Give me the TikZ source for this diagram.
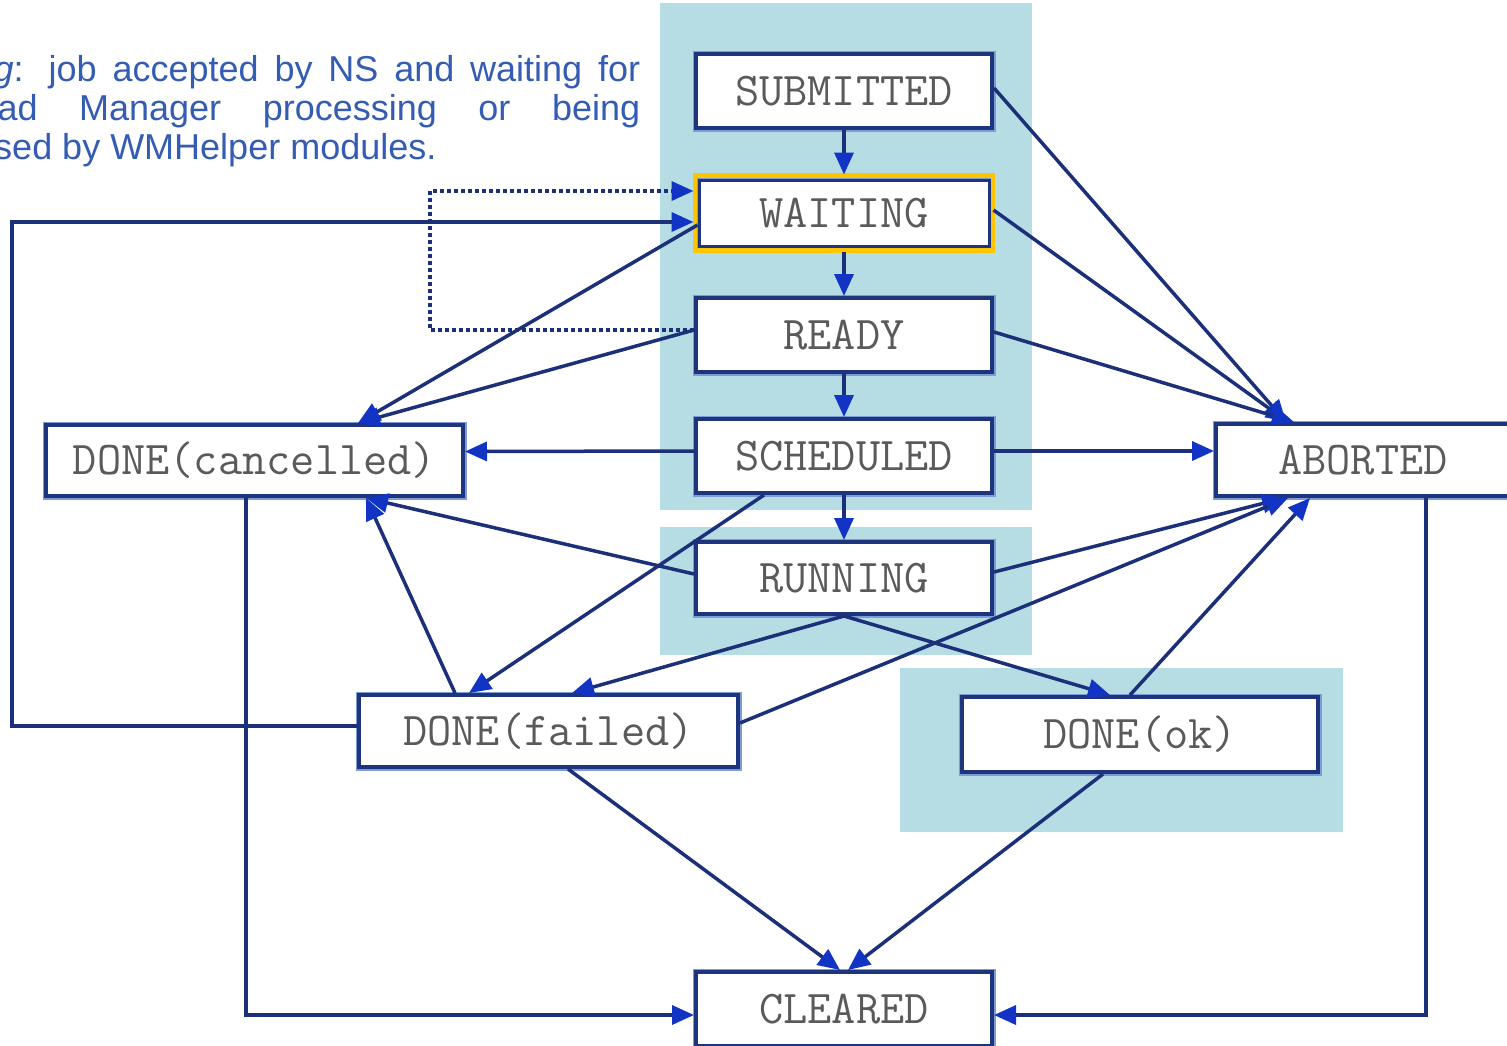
\documentclass[tikz,border=0pt]{standalone}
\usepackage{fontspec}
\setmainfont{Liberation Sans}
\usetikzlibrary{arrows.meta,calc}

\definecolor{panel}{RGB}{181,221,227}
\definecolor{edge}{RGB}{28,48,122}
\definecolor{tipblue}{RGB}{18,52,196}
\definecolor{frame}{RGB}{30,52,125}
\definecolor{halo}{RGB}{125,155,212}
\definecolor{label}{RGB}{90,90,90}
\definecolor{notecol}{RGB}{52,92,178}
\definecolor{highlight}{RGB}{255,198,0}

\begin{document}
\begin{tikzpicture}[x=1pt,y=-1pt,
  state/.style={draw=frame, line width=4pt, fill=white, inner sep=0pt,
    minimum width=296pt, minimum height=74pt, text=label,
    font=\ttfamily\fontsize{47}{48}\selectfont,
    preaction={draw=halo, line width=7pt}},
  wire/.style={draw=edge, line width=3.5pt},
  arrowed/.style={wire, -{Triangle[length=22pt,width=19pt,color=tipblue]}},
  dotwire/.style={arrowed, dash pattern=on 4pt off 3pt},
  panelbox/.style={fill=panel, draw=none},
  notetext/.style={text=notecol, inner sep=0pt, font=\fontsize{36}{39}\selectfont}
]
\useasboundingbox (0,0) rectangle (1507,1045);
\clip (0,0) rectangle (1507,1045);

% shaded groups of states
\fill[panelbox] (660,3) rectangle (1032,510);
\fill[panelbox] (660,527) rectangle (1032,655);
\fill[panelbox] (900,668) rectangle (1343,832);

% states
\node[state] (sub) at (844,91) {SUBMITTED};
\node[state, line width=3pt, minimum width=290pt, minimum height=66pt] (wait) at (844,213) {WAITING};
\draw[highlight, line width=4.5pt] ($(wait.north west)+(-2.5,-3)$) rectangle ($(wait.south east)+(2.5,3)$);
\node[state] (ready) at (844,335) {READY};
\node[state] (sched) at (844,456) {SCHEDULED};
\node[state, minimum height=72pt] (run) at (844,578) {RUNNING};
\node[state, minimum width=417pt, minimum height=71pt] (canc) at (254.5,460.5) {DONE(cancelled)};
\node[state, minimum width=294pt, minimum height=72pt] (abort) at (1363,460) {ABORTED};
\node[state, minimum width=379pt, minimum height=72pt] (failed) at (548.5,731) {DONE(failed)};
\node[state, minimum width=356pt, minimum height=75pt] (ok) at (1140,734.5) {DONE(ok)};
\node[state] (clear) at (844,1009) {CLEARED};

% helper coordinates for routed connectors
\coordinate (dotx) at (430,260);
\coordinate (railx) at (12,470);

% main chain
\draw[arrowed] (sub.south) -- ($(wait.north)+(0,-4)$);
\draw[arrowed] ($(wait.south)+(0,4)$) -- (ready.north);
\draw[arrowed] (ready.south) -- (sched.north);
\draw[arrowed] (sched.south) -- (run.north);

% towards ABORTED
\draw[arrowed] ($(sub.east)+(0,-3)$) -- ($(abort.north west)+(72,0)$);
\draw[arrowed] ($(wait.east)+(3,-3)$) -- ($(abort.north west)+(74,0)$);
\draw[arrowed] ($(ready.east)+(0,-3)$) -- ($(abort.north west)+(80,0)$);
\draw[arrowed] ($(sched.east)+(0,-5)$) -- ($(abort.west)+(0,-9)$);
\draw[arrowed] ($(run.east)+(0,-6)$) -- ($(abort.south west)+(70,0)$);
\draw[arrowed] ($(failed.east)+(0,-8)$) -- ($(abort.south west)+(74,0)$);
\draw[arrowed] ($(ok.north west)+(170,0)$) -- ($(abort.south west)+(96,0)$);

% from RUNNING and SCHEDULED downwards
\draw[arrowed] (run.south) -- ($(ok.north west)+(150,0)$);
\draw[arrowed] (run.south) -- ($(failed.north west)+(215,0)$);
\draw[arrowed] ($(sched.south west)+(70,0)$) -- ($(failed.north west)+(112,0)$);

% towards DONE(cancelled)
\draw[arrowed] ($(run.west)+(0,-4)$) -- ($(canc.south west)+(322,0)$);
\draw[arrowed] ($(failed.north west)+(98,0)$) -- ($(canc.south west)+(322,0)$);
\draw[arrowed] ($(sched.west)+(0,-5)$) -- ($(canc.east)+(0,-9)$);
\draw[arrowed] ($(ready.west)+(0,-5)$) -- ($(canc.north west)+(314,0)$);
\draw[arrowed] ($(wait.west)+(0,12)$) -- ($(canc.north west)+(314,0)$);

% back to WAITING
\coordinate (rw) at ($(ready.west)+(0,-5)$);
\coordinate (ww) at ($(wait.west)+(-4,-22)$);
\draw[dotwire] (rw) -- (rw -| dotx) |- (ww);
\coordinate (fw) at ($(failed.west)+(0,-5)$);
\coordinate (wr) at ($(wait.west)+(-4,9)$);
\draw[arrowed] (fw) -- (fw -| railx) |- (wr);

% towards CLEARED
\draw[arrowed] ($(canc.south west)+(202,0)$) |- ($(clear.west)+(0,6)$);
\draw[arrowed] ($(abort.south west)+(212,0)$) |- ($(clear.east)+(0,6)$);
\draw[arrowed] ($(failed.south west)+(211,0)$) -- ($(clear.north)+(-4,0)$);
\draw[arrowed] ($(ok.south west)+(143,0)$) -- ($(clear.north)+(4,0)$);

% description of the WAITING state
\node[notetext, anchor=base west] (n1) at (-106,81)
  {\makebox[746pt][s]{\textit{Waiting}: job accepted by NS and waiting for}};
\node[notetext, anchor=base west] (n2) at (-114,120)
  {\makebox[754pt][s]{Workload Manager processing or being}};
\node[notetext, anchor=base west] (n3) at (-114,159)
  {processed by WMHelper modules.};
\end{tikzpicture}
\end{document}
